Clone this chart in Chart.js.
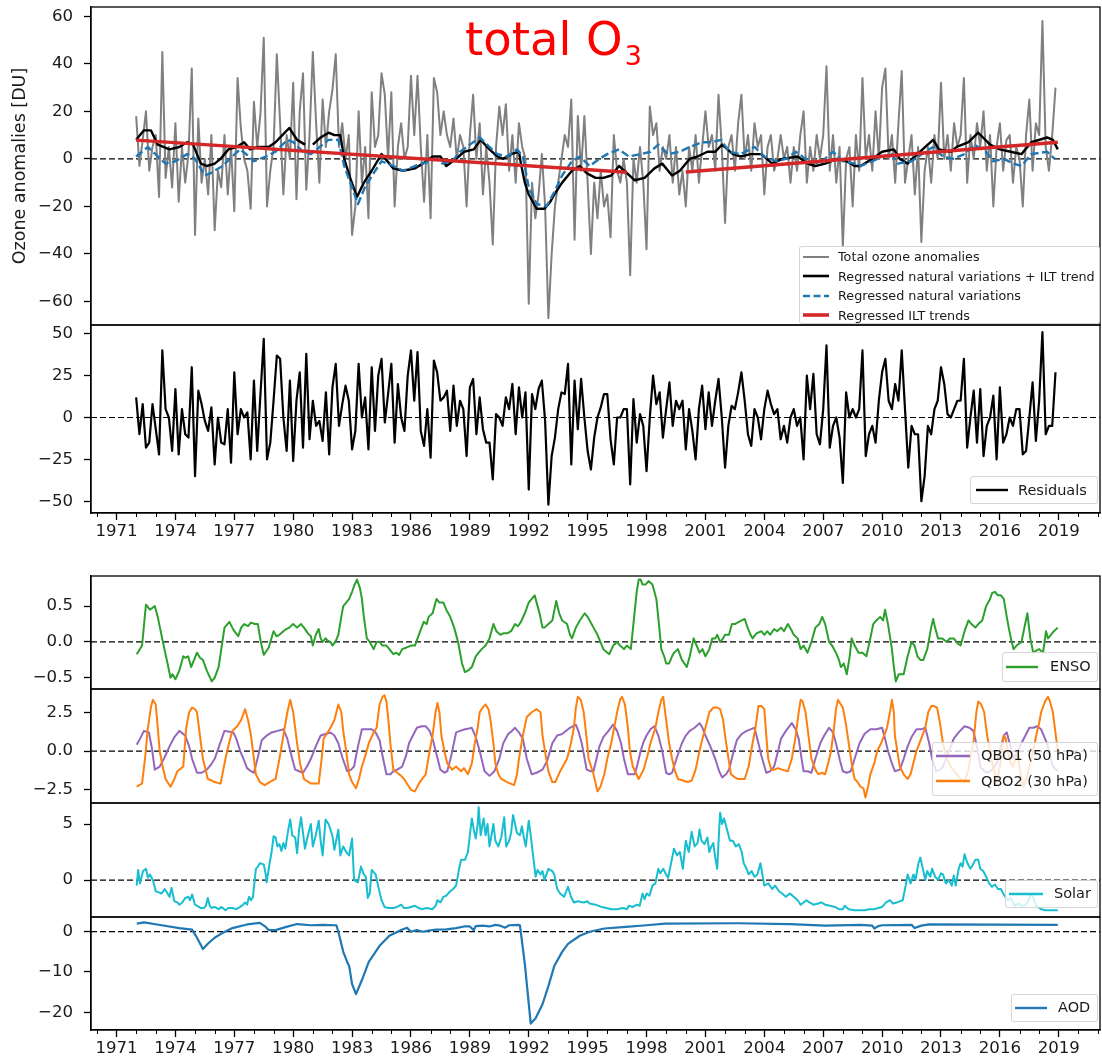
<!DOCTYPE html>
<html>
<head>
<meta charset="utf-8">
<script src="https://cdn.jsdelivr.net/npm/chart.js@4.4.0/dist/chart.umd.min.js"></script>
<style>
  body { margin: 0; background: #fff; }
  #fig { position: relative; width: 1102px; height: 1060px; overflow: hidden; font-family: "DejaVu Sans", sans-serif; }
  #fig canvas { position: absolute; left: 0; }
  #title { position: absolute; left: 465px; top: 16px; font-size: 46.5px; line-height: 46.5px; color: #ff0000; white-space: nowrap; z-index: 5; }
  #title .sub { font-size: 27px; position: relative; top: 10px; margin-left: 2px; }
  .legend { position: absolute; background: rgba(255,255,255,0.8); border: 1px solid rgba(204,204,204,0.8); border-radius: 3px; box-sizing: border-box; z-index: 4; }
  .legend span { position: absolute; white-space: nowrap; color: #1a1a1a; }
  .legend svg { position: absolute; }
</style>
</head>
<body>
<div id="fig">
  <div id="title">total O<span class="sub">3</span></div>
</div>
<script>
"use strict";

// x axis: decimal years
const xMajorTicks = [1971, 1974, 1977, 1980, 1983, 1986, 1989, 1992, 1995, 1998, 2001, 2004, 2007, 2010, 2013, 2016, 2019];
const xMinorTicks = [1970, 1972, 1973, 1975, 1976, 1978, 1979, 1981, 1982, 1984, 1985, 1987, 1988, 1990, 1991, 1993, 1994,
  1996, 1997, 1999, 2000, 2002, 2003, 2005, 2006, 2008, 2009, 2011, 2012, 2014, 2015, 2017, 2018, 2020, 2021];

// total ozone anomalies [DU], 6 samples per year from 1972
const ozoneStart = 1972;
const samplesPerYear = 6;
const ozoneAnom = [
  18, -3, 8, 20, -5, 5,        // 1972
  10, -16, 45, -8, 5, -12,     // 1973
  15, -18, 5, -10, 2, 38,      // 1974
  -32, 17, -10, 0, -15, 10,    // 1975
  -30, -5, -12, 10, -15, 5,    // 1976
  -22, 34, 13, 0, -5, -21,     // 1977
  24, 5, 19, 51, -20, -5,      // 1978
  5, 44, 15, -15, 10, 0,       // 1979
  32, -17, 20, 36, -13, 10,    // 1980
  45, 15, -10, 25, 5, 20,      // 1981
  29, 44, 5, 15, 0, 10,        // 1982
  -32, -20, 20, -10, 5, -25,   // 1983
  28, 5, 10, 36, 27, 0,        // 1984
  28, -20, 5, 15, 0, 5,        // 1985
  35, 10, 35, 5, -18, 10,      // 1986
  -25, 34, 28, 10, 20, 10,     // 1987
  5, 17, 0, 10, 5, -20,        // 1988
  10, 27, 0, 15, -15, 5,       // 1989
  -10, -36, 5, 22, 10, 23,     // 1990
  -5, 10, -10, 15, 5, 0,       // 1991
  -61, -10, -25, -15, 2, -20,  // 1992
  -67, -40, -20, -10, 0, 10,   // 1993
  5, 25, -34, 18, -5, 18,      // 1994
  -10, -40, -10, -25, -5, -20, // 1995
  -15, -33, 10, -5, -10, 0,    // 1996
  -10, -49, 0, -10, 5, -10,    // 1997
  -38, 22, 10, 15, -5, 5,      // 1998
  0, 10, -10, 5, -15, -5,      // 1999
  -20, 5, -5, 10, -10, 5,      // 2000
  20, 5, 10, -5, 27, 5,        // 2001
  -27, 5, 10, -5, 15, 27,      // 2002
  0, 10, -5, 15, 5, 10,        // 2003
  -15, 5, 10, -5, 0, 10,       // 2004
  0, 5, -10, 5, -5, 10,        // 2005
  20, -10, 5, -5, 10, 0,       // 2006
  10, 39, -5, 10, -10, 5,      // 2007
  -37, 0, 5, -20, 10, -5,      // 2008
  34, 0, 10, -5, 20, 0,        // 2009
  30, 38, 0, 10, -10, 15,      // 2010
  37, -10, 0, 10, -15, 5,      // 2011
  -35, -5, 5, -10, 10, 0,      // 2012
  32, 0, 10, -5, 15, 5,        // 2013
  10, 34, -10, 10, 0, 15,      // 2014
  5, 20, -5, 10, -20, 5,       // 2015
  15, -5, 8, 10, -10, 5,       // 2016
  0, -20, 10, 25, -5, 15,      // 2017
  10, 58, 5, -5, 10, 30        // 2018
];

// residuals [DU], same sampling
const residuals = [
  12, -10, 8, -18, -15, 8,     // 1972
  -7, -22, 40, 5, 0, -20,      // 1973
  17, -22, 5, -10, -12, 30,    // 1974
  -35, 16, 8, -2, -8, 6,       // 1975
  -28, 0, -15, -16, 5, -27,    // 1976
  27, -10, 5, 0, 3, -25,       // 1977
  22, -20, 14, 47, -25, -15,   // 1978
  10, 37, 35, 0, -20, 22,      // 1979
  -26, 10, 27, -18, 38, -13,   // 1980
  10, -5, -2, -14, 15, -22,    // 1981
  18, 32, -5, 8, 19, 10,       // 1982
  -19, -8, 32, 0, 12, -19,     // 1983
  30, -8, 25, 35, -3, 14,      // 1984
  32, -15, 20, 0, -8, 25,      // 1985
  40, 10, 39, -8, -17, 5,      // 1986
  -24, 34, 27, 10, 12, 16,     // 1987
  -8, 19, -5, 10, 5, -23,      // 1988
  18, 23, -10, 12, -7, -15,    // 1989
  -15, -37, 2, 0, -5, 12,      // 1990
  5, 20, -10, 18, 0, 15,       // 1991
  -43, 14, 5, 17, 22, -2,      // 1992
  -52, -23, -12, 5, 15, 14,    // 1993
  32, -28, 22, -7, 23, 0,      // 1994
  -20, -31, -12, 0, 6, 14,     // 1995
  14, -13, -28, 0, 0, 5,       // 1996
  5, -40, 11, -15, 2, -5,      // 1997
  -32, 0, 25, 8, 15, -12,      // 1998
  5, 21, -5, 10, 5, 10,        // 1999
  -19, 5, -8, -25, 5, 19,      // 2000
  -7, 15, -5, 10, 23, 0,       // 2001
  -30, -5, 7, 5, 15, 27,       // 2002
  10, -10, -17, 5, 0, -13,     // 2003
  5, 16, 8, 2, 5, -13,         // 2004
  -5, -15, 0, 5, -5, 0,        // 2005
  -25, 25, 5, 26, -10, -16,    // 2006
  5, 43, -18, -5, 0, -12,      // 2007
  -39, 15, 0, 5, 0, 5,         // 2008
  40, -23, -10, -5, -15, 10,   // 2009
  27, 35, 10, 5, 20, 10,       // 2010
  40, 5, -30, -5, -10, -10,    // 2011
  -50, -35, -5, -10, 5, 10,    // 2012
  30, 20, 2, 0, 5, 10,         // 2013
  10, 35, -18, 0, 16, -15,     // 2014
  17, -23, -5, 0, 13, -25,     // 2015
  18, -15, -10, 0, -5, 5,      // 2016
  5, -22, -20, 0, 21, -14,     // 2017
  10, 51, -10, -5, -5, 27      // 2018
];

// regressed natural variations + ILT trend [year, DU]
const regressedTotal = [[1972.0,8],[1972.4,12],[1972.75,12],[1973.1,6],[1973.7,4],[1974.2,5],[1974.6,7],[1974.9,6],[1975.3,-2],[1975.6,-3],
  [1976.0,-2],[1976.3,0],[1976.7,4],[1977.1,5],[1977.5,7],[1977.8,4],[1978.2,5],[1978.75,5],[1979.1,7],[1979.45,10],[1979.8,13],
  [1980.2,8],[1980.6,6],[1980.7,null],[1981.0,6],[1981.4,9],[1981.8,11],[1982.1,10],[1982.4,10],[1982.6,0],[1982.9,-8],[1983.25,-16],
  [1983.6,-10],[1984.0,-5],[1984.5,2],[1984.7,0],[1985.1,-4],[1985.6,-5],[1986.2,-4],[1986.6,-2],[1987.1,1],[1987.5,1],[1987.8,-3],
  [1988.3,0],[1988.7,3],[1989.2,4],[1989.55,8],[1990.0,4],[1990.4,1],[1990.7,0],[1991.1,2],[1991.5,3],[1991.6,-2],[1991.8,-10],
  [1992.0,-15],[1992.4,-21],[1992.8,-21],[1993.1,-18],[1993.3,-15],[1993.7,-10],[1994.2,-5],[1994.6,-3],[1994.95,-6],[1995.4,-8],
  [1995.8,-8],[1996.2,-7],[1996.6,-3],[1997.0,-6],[1997.4,-9],[1997.9,-8],[1998.4,-4],[1998.8,-2],[1999.3,-7],[1999.7,-5],[2000.2,0],
  [2000.6,1],[2001.1,3],[2001.5,3],[2001.85,6],[2002.4,2],[2002.8,1],[2003.3,2],[2003.85,2],[2004.4,-2],[2004.9,0],[2005.7,1],
  [2006.2,-2],[2006.6,-3],[2007.1,-2],[2007.7,0],[2008.2,-1],[2008.6,-3],[2008.9,-3],[2009.5,0],[2010.0,3],[2010.6,4],[2010.9,0],
  [2011.3,-2],[2011.8,2],[2012.2,5],[2012.6,8],[2012.9,4],[2013.5,3],[2013.8,5],[2014.4,7],[2014.9,11],[2015.5,6],[2016.0,4],
  [2016.55,3],[2017.1,2],[2017.6,7],[2018.4,9],[2018.7,8],[2018.95,4]];

// regressed natural variations [year, DU]
const regressedNatural = [[1972.0,1],[1972.6,5],[1973.1,1],[1973.5,-2],[1974.0,-1],[1974.6,2],[1975.0,0],[1975.5,-7],[1975.8,-6],
  [1976.4,-3],[1976.9,1],[1977.3,4],[1977.6,2],[1978.0,-1],[1978.6,1],[1979.1,3],[1979.7,8],[1980.0,7],[1980.5,3],[1980.9,2],
  [1981.5,6],[1981.8,8],[1982.3,8],[1982.6,-3],[1983.0,-12],[1983.3,-19],[1983.65,-12],[1984.1,-6],[1984.5,-1],[1984.8,-2],
  [1985.1,-3],[1985.6,-5],[1986.2,-3],[1986.6,-2],[1987.3,0],[1987.6,-2],[1988.1,-1],[1988.5,3],[1989.0,6],[1989.5,9],[1990.0,5],
  [1990.4,2],[1990.9,1],[1991.4,4],[1991.7,1],[1992.0,-12],[1992.4,-19],[1992.9,-20],[1993.3,-14],[1993.7,-7],[1994.2,-1],
  [1994.6,1],[1995.1,-3],[1995.6,0],[1996.0,2],[1996.6,4],[1997.1,1],[1997.7,2],[1998.2,3],[1998.6,6],[1999.1,2],[1999.7,3],
  [2000.2,5],[2000.8,7],[2001.3,7],[2001.8,8],[2002.2,3],[2002.8,2],[2003.5,5],[2004.0,1],[2004.6,-1],[2005.1,0],[2005.6,3],
  [2006.1,0],[2006.8,-2],[2007.5,3],[2008.0,-1],[2008.6,-2],[2008.9,-3],[2009.5,-1],[2010.0,1],[2010.5,2],[2010.8,-2],[2011.5,-1],
  [2012.2,3],[2012.6,5],[2013.1,1],[2013.6,0],[2014.2,2],[2014.7,6],[2015.3,3],[2015.65,-1],[2016.2,0],[2016.7,-2],[2017.1,-3],
  [2017.6,2],[2018.4,3],[2018.8,0]];

// regressed ILT trends (two segments) [year, DU]
const iltTrend = [[1972.0,7.9],[1997.0,-5.6],[1998.5,null],[2000.0,-5.5],[2018.95,7.0]];

// proxies [year, value]
const enso = [[1972.03,-0.17],[1972.3,-0.05],[1972.5,0.52],[1972.7,0.45],[1972.95,0.5],[1973.1,0.35],[1973.4,-0.05],[1973.6,-0.3],
  [1973.75,-0.5],[1973.85,-0.45],[1974.0,-0.52],[1974.2,-0.4],[1974.4,-0.2],[1974.5,-0.22],[1974.65,-0.2],[1974.8,-0.35],[1975.1,-0.15],
  [1975.25,-0.22],[1975.4,-0.25],[1975.6,-0.4],[1975.85,-0.55],[1976.0,-0.5],[1976.2,-0.35],[1976.5,0.2],[1976.75,0.28],[1976.9,0.2],
  [1977.0,0.15],[1977.2,0.08],[1977.35,0.2],[1977.5,0.25],[1977.7,0.22],[1977.85,0.27],[1978.05,0.25],[1978.2,0.25],[1978.35,0.0],
  [1978.5,-0.18],[1978.75,-0.08],[1979.0,0.15],[1979.15,0.08],[1979.3,0.1],[1979.5,0.15],[1979.65,0.18],[1979.8,0.2],[1980.0,0.25],
  [1980.2,0.2],[1980.4,0.25],[1980.55,0.2],[1980.75,0.12],[1980.9,0.08],[1981.0,-0.05],[1981.15,0.1],[1981.3,0.18],[1981.4,0.05],
  [1981.5,0.0],[1981.65,0.05],[1981.75,0.02],[1981.9,0.0],[1982.0,-0.05],[1982.15,0.0],[1982.3,0.1],[1982.45,0.35],[1982.55,0.5],
  [1982.7,0.55],[1982.85,0.6],[1983.0,0.7],[1983.1,0.78],[1983.25,0.87],[1983.4,0.75],[1983.5,0.6],[1983.6,0.35],[1983.75,0.05],
  [1983.9,0.0],[1984.1,-0.1],[1984.25,0.0],[1984.4,0.0],[1984.55,-0.05],[1984.75,-0.05],[1984.9,-0.1],[1985.1,-0.17],[1985.25,-0.15],
  [1985.4,-0.18],[1985.55,-0.1],[1985.75,-0.08],[1986.0,-0.05],[1986.2,-0.05],[1986.4,0.1],[1986.65,0.28],[1986.8,0.25],[1986.9,0.35],
  [1987.1,0.4],[1987.3,0.6],[1987.45,0.55],[1987.65,0.55],[1987.8,0.45],[1988.0,0.35],[1988.2,0.2],[1988.4,0.0],[1988.6,-0.3],
  [1988.75,-0.42],[1988.9,-0.4],[1989.1,-0.35],[1989.3,-0.2],[1989.45,-0.15],[1989.6,-0.1],[1989.8,-0.05],[1990.0,0.05],[1990.2,0.25],
  [1990.35,0.15],[1990.55,0.1],[1990.7,0.12],[1990.9,0.12],[1991.1,0.15],[1991.3,0.25],[1991.45,0.22],[1991.6,0.28],[1991.8,0.4],
  [1992.0,0.55],[1992.15,0.6],[1992.3,0.65],[1992.45,0.5],[1992.55,0.4],[1992.7,0.2],[1992.8,0.2],[1993.0,0.25],[1993.2,0.3],
  [1993.4,0.57],[1993.55,0.4],[1993.7,0.3],[1993.95,0.25],[1994.1,0.1],[1994.2,0.05],[1994.4,0.2],[1994.6,0.3],[1994.85,0.4],
  [1995.0,0.35],[1995.1,0.3],[1995.3,0.2],[1995.5,0.1],[1995.65,0.0],[1995.8,-0.1],[1996.0,-0.15],[1996.1,-0.17],[1996.3,-0.05],
  [1996.5,0.0],[1996.65,-0.05],[1996.85,-0.1],[1997.0,-0.05],[1997.2,-0.1],[1997.35,0.3],[1997.5,0.7],[1997.6,0.87],[1997.7,0.87],
  [1997.8,0.8],[1997.95,0.8],[1998.1,0.85],[1998.3,0.8],[1998.5,0.6],[1998.65,0.2],[1998.75,-0.1],[1998.9,-0.2],[1999.0,-0.3],
  [1999.15,-0.3],[1999.3,-0.2],[1999.4,-0.15],[1999.6,-0.1],[1999.8,-0.25],[2000.05,-0.35],[2000.2,-0.2],[2000.4,0.05],[2000.55,-0.05],
  [2000.7,-0.15],[2000.85,-0.1],[2001.0,-0.2],[2001.2,-0.1],[2001.35,0.05],[2001.5,0.05],[2001.6,0.1],[2001.75,0.0],[2001.9,0.05],
  [2002.0,0.1],[2002.2,0.1],[2002.35,0.25],[2002.5,0.25],[2002.7,0.28],[2002.85,0.3],[2003.0,0.32],[2003.15,0.2],[2003.3,0.1],
  [2003.4,0.05],[2003.6,0.12],[2003.85,0.15],[2004.0,0.1],[2004.15,0.15],[2004.3,0.1],[2004.5,0.18],[2004.65,0.15],[2004.85,0.2],
  [2005.0,0.15],[2005.2,0.25],[2005.35,0.18],[2005.5,0.1],[2005.7,0.05],[2005.85,-0.1],[2006.0,-0.05],[2006.2,-0.15],[2006.4,0.0],
  [2006.6,0.2],[2006.8,0.25],[2006.95,0.35],[2007.1,0.25],[2007.3,0.0],[2007.45,-0.05],[2007.65,-0.15],[2007.8,-0.25],[2007.9,-0.35],
  [2008.05,-0.3],[2008.2,-0.45],[2008.35,-0.2],[2008.45,0.05],[2008.6,-0.05],[2008.8,-0.15],[2009.0,-0.15],[2009.2,-0.2],[2009.4,0.05],
  [2009.55,0.25],[2009.7,0.3],[2009.9,0.35],[2010.05,0.3],[2010.15,0.45],[2010.3,0.25],[2010.5,-0.1],[2010.6,-0.35],[2010.7,-0.55],
  [2010.85,-0.45],[2011.1,-0.45],[2011.3,-0.2],[2011.5,0.0],[2011.65,-0.05],[2011.8,-0.2],[2011.95,-0.25],[2012.1,-0.25],[2012.3,-0.1],
  [2012.4,0.05],[2012.5,0.2],[2012.6,0.32],[2012.7,0.2],[2012.85,0.05],[2013.05,0.05],[2013.3,0.0],[2013.45,0.05],[2013.65,0.05],
  [2013.85,-0.02],[2014.0,-0.05],[2014.2,0.15],[2014.4,0.3],[2014.55,0.25],[2014.75,0.2],[2014.9,0.25],[2015.1,0.3],[2015.3,0.5],
  [2015.5,0.6],[2015.6,0.68],[2015.75,0.7],[2015.9,0.65],[2016.05,0.65],[2016.2,0.6],[2016.35,0.35],[2016.45,0.2],[2016.6,0.0],
  [2016.7,-0.1],[2016.85,-0.05],[2017.1,0.0],[2017.25,0.2],[2017.4,0.4],[2017.55,0.05],[2017.7,-0.15],[2017.85,-0.12],[2018.0,-0.1],
  [2018.2,-0.15],[2018.35,0.15],[2018.45,0.05],[2018.6,0.1],[2018.75,0.15],[2018.95,0.2]];

const qbo1 = [[1972.03,0.4],[1972.2,0.8],[1972.4,1.3],[1972.65,1.2],[1972.8,0.2],[1972.95,-1.2],[1973.2,-1.0],[1973.45,-0.4],[1973.7,0.3],
  [1973.95,0.9],[1974.2,1.3],[1974.5,1.0],[1974.7,0.3],[1974.85,-0.5],[1975.1,-1.4],[1975.35,-1.4],[1975.6,-1.2],[1975.8,-0.9],[1976.0,-0.5],
  [1976.25,0.4],[1976.5,1.3],[1976.75,1.25],[1976.95,1.2],[1977.1,0.8],[1977.3,0.0],[1977.5,-0.6],[1977.65,-1.1],[1977.85,-1.3],[1978.0,-1.4],
  [1978.2,-0.4],[1978.4,0.7],[1978.65,1.0],[1978.9,1.2],[1979.2,1.3],[1979.5,1.4],[1979.7,0.8],[1979.85,0.0],[1980.1,-1.2],[1980.3,-1.3],
  [1980.5,-1.4],[1980.7,-1.0],[1980.9,-0.5],[1981.15,0.3],[1981.4,1.0],[1981.65,1.1],[1981.9,1.2],[1982.1,1.0],[1982.3,0.5],[1982.5,-0.4],
  [1982.75,-1.3],[1982.95,-1.2],[1983.1,-1.0],[1983.3,0.3],[1983.5,1.4],[1983.75,1.4],[1984.0,1.4],[1984.2,1.2],[1984.4,0.7],[1984.55,-0.3],
  [1984.75,-1.5],[1984.95,-1.5],[1985.1,-1.3],[1985.3,-1.2],[1985.55,-1.0],[1985.75,-0.3],[1985.9,0.5],[1986.1,1.0],[1986.3,1.5],
  [1986.55,1.6],[1986.75,1.6],[1986.95,1.3],[1987.1,0.8],[1987.3,-0.2],[1987.5,-1.2],[1987.7,-1.4],[1987.85,-1.3],[1988.05,-0.3],
  [1988.3,1.2],[1988.5,1.3],[1988.75,1.4],[1988.95,1.45],[1989.1,1.5],[1989.3,0.9],[1989.5,0.0],[1989.75,-1.3],[1990.0,-1.6],[1990.25,-1.3],
  [1990.5,-0.5],[1990.7,0.5],[1990.95,1.1],[1991.15,1.3],[1991.3,1.5],[1991.5,1.2],[1991.7,0.8],[1991.9,-0.5],[1992.15,-1.5],[1992.4,-1.4],
  [1992.7,-1.2],[1992.95,-0.6],[1993.2,0.5],[1993.45,1.0],[1993.7,1.1],[1994.1,1.5],[1994.4,1.7],[1994.55,1.2],[1994.7,0.5],[1994.95,-1.2],
  [1995.15,-1.3],[1995.3,-1.3],[1995.45,-0.5],[1995.6,0.3],[1995.8,0.9],[1996.0,1.2],[1996.3,1.7],[1996.5,1.3],[1996.7,0.5],[1996.85,-0.5],
  [1997.05,-1.5],[1997.25,-1.5],[1997.4,-1.5],[1997.55,-0.8],[1997.7,0.0],[1997.85,0.6],[1998.0,1.0],[1998.2,1.4],[1998.4,1.6],[1998.6,1.0],
  [1998.8,0.0],[1999.0,-1.4],[1999.15,-1.5],[1999.3,-1.4],[1999.55,-0.4],[1999.8,0.5],[2000.0,1.0],[2000.2,1.3],[2000.45,1.5],[2000.7,1.8],
  [2000.85,1.5],[2001.0,1.0],[2001.25,0.3],[2001.5,-0.5],[2001.7,-1.3],[2001.85,-1.7],[2002.05,-1.5],[2002.2,-1.2],[2002.4,-0.2],
  [2002.6,0.7],[2002.85,1.1],[2003.1,1.3],[2003.3,1.4],[2003.5,1.5],[2003.7,0.5],[2003.85,-0.3],[2004.1,-1.4],[2004.3,-1.3],[2004.5,-1.0],
  [2004.7,0.0],[2004.85,0.8],[2005.1,1.3],[2005.4,1.8],[2005.6,1.4],[2005.75,0.8],[2005.9,-0.5],[2006.0,-1.3],[2006.2,-1.3],[2006.4,-1.4],
  [2006.6,-0.5],[2006.85,0.5],[2007.05,1.0],[2007.3,1.5],[2007.5,1.2],[2007.65,0.5],[2007.85,-0.6],[2008.0,-1.3],[2008.2,-1.4],
  [2008.4,-1.3],[2008.6,-0.5],[2008.85,0.5],[2009.1,1.1],[2009.4,1.4],[2009.7,1.4],[2010.0,1.5],[2010.15,0.8],[2010.3,0.0],[2010.5,-0.8],
  [2010.65,-1.3],[2010.9,-1.2],[2011.1,-0.5],[2011.3,0.3],[2011.5,0.9],[2011.75,1.4],[2012.0,1.4],[2012.2,1.5],[2012.4,0.5],[2012.55,-0.5],
  [2012.75,-1.3],[2012.95,-1.2],[2013.1,-1.0],[2013.35,-0.2],[2013.65,0.8],[2013.9,1.2],[2014.2,1.6],[2014.45,1.5],[2014.65,1.3],
  [2014.85,0.2],[2015.0,-1.0],[2015.2,-1.3],[2015.4,-1.4],[2015.6,-1.2],[2015.85,-0.8],[2016.0,0.0],[2016.2,1.0],[2016.35,1.2],
  [2016.5,0.5],[2016.7,-0.5],[2016.9,0.0],[2017.1,0.5],[2017.3,1.0],[2017.5,1.5],[2017.7,1.5],[2017.9,1.6],[2018.1,1.4],[2018.4,0.5],
  [2018.55,-0.3],[2018.7,-1.0],[2018.95,-1.3]];

const qbo2 = [[1972.03,-2.3],[1972.15,-2.2],[1972.3,-2.1],[1972.45,-0.5],[1972.6,1.5],[1972.75,2.8],[1972.85,3.3],[1973.0,3.0],[1973.1,1.5],
  [1973.2,0.0],[1973.35,-1.0],[1973.5,-1.8],[1973.75,-2.3],[1973.95,-1.8],[1974.1,-1.3],[1974.3,-1.1],[1974.4,-1.0],[1974.55,1.5],
  [1974.7,2.5],[1974.85,2.8],[1975.0,2.7],[1975.1,2.5],[1975.25,1.0],[1975.4,-0.5],[1975.65,-1.8],[1975.85,-1.9],[1976.0,-2.0],
  [1976.3,-2.1],[1976.55,-0.5],[1976.75,0.6],[1976.9,1.3],[1977.15,1.6],[1977.35,2.0],[1977.55,2.7],[1977.7,2.0],[1977.85,1.0],
  [1978.1,-1.5],[1978.3,-2.0],[1978.55,-2.2],[1978.8,-2.0],[1979.1,-1.8],[1979.3,-0.5],[1979.5,1.0],[1979.7,2.5],[1979.85,3.3],
  [1980.0,2.5],[1980.2,0.5],[1980.35,-0.8],[1980.55,-1.8],[1980.9,-2.1],[1981.1,-2.1],[1981.3,-2.1],[1981.45,-0.5],[1981.55,0.8],
  [1981.75,1.2],[1981.9,1.5],[1982.1,2.0],[1982.3,3.0],[1982.45,2.5],[1982.55,1.3],[1982.7,0.0],[1982.85,-1.5],[1983.0,-2.0],[1983.2,-2.4],
  [1983.35,-1.8],[1983.5,-1.0],[1983.7,-0.2],[1983.85,0.5],[1984.1,1.2],[1984.25,1.5],[1984.4,3.0],[1984.55,3.5],[1984.65,3.6],
  [1984.75,3.2],[1984.85,2.0],[1984.95,0.5],[1985.1,-1.2],[1985.3,-1.4],[1985.5,-1.6],[1985.65,-1.8],[1985.85,-2.2],[1986.0,-2.5],
  [1986.2,-2.6],[1986.45,-2.0],[1986.75,-1.5],[1986.95,0.0],[1987.1,1.0],[1987.25,2.5],[1987.35,3.1],[1987.45,2.5],[1987.55,1.0],
  [1987.7,0.0],[1987.85,-0.8],[1988.1,-1.2],[1988.3,-1.0],[1988.55,-1.3],[1988.7,-1.1],[1988.9,-1.5],[1989.1,-0.8],[1989.25,0.5],
  [1989.4,1.5],[1989.5,2.5],[1989.65,2.8],[1989.8,3.0],[1989.95,2.7],[1990.05,2.0],[1990.2,0.5],[1990.3,-0.8],[1990.45,-1.5],[1990.6,-1.8],
  [1990.9,-2.0],[1991.25,-2.2],[1991.4,-1.5],[1991.5,-0.5],[1991.7,1.0],[1991.9,2.2],[1992.15,2.5],[1992.4,2.7],[1992.6,2.5],[1992.7,1.0],
  [1992.85,-0.2],[1993.0,-1.3],[1993.2,-2.0],[1993.35,-2.0],[1993.6,-1.3],[1993.95,-0.5],[1994.15,0.5],[1994.3,1.5],[1994.4,2.8],
  [1994.5,3.5],[1994.65,3.3],[1994.8,2.5],[1994.95,0.8],[1995.05,-0.5],[1995.3,-1.5],[1995.5,-2.6],[1995.65,-2.3],[1995.85,-1.5],
  [1996.0,-0.5],[1996.2,0.5],[1996.35,1.5],[1996.5,2.5],[1996.65,3.3],[1996.75,3.5],[1996.9,3.0],[1997.05,1.5],[1997.15,0.0],
  [1997.3,-1.0],[1997.6,-1.8],[1997.85,-1.2],[1998.05,-0.3],[1998.2,0.5],[1998.45,1.5],[1998.6,2.5],[1998.75,3.3],[1998.85,3.5],
  [1999.0,2.0],[1999.15,0.5],[1999.3,-0.5],[1999.45,-1.3],[1999.6,-1.8],[1999.85,-1.9],[2000.1,-2.0],[2000.3,-1.9],[2000.5,-1.2],
  [2000.7,0.0],[2000.85,0.8],[2001.0,1.5],[2001.2,2.5],[2001.4,2.8],[2001.6,2.8],[2001.75,2.7],[2001.9,2.0],[2002.0,1.0],[2002.15,-0.3],
  [2002.3,-1.5],[2002.5,-1.7],[2002.65,-1.8],[2003.0,-1.8],[2003.2,-1.0],[2003.4,0.5],[2003.55,1.5],[2003.7,2.9],[2003.85,2.9],
  [2004.0,2.7],[2004.1,1.0],[2004.2,-0.5],[2004.35,-1.2],[2004.5,-1.2],[2004.7,-1.1],[2004.9,-1.2],[2005.2,-1.3],[2005.4,-0.5],
  [2005.6,1.0],[2005.75,2.5],[2005.85,3.3],[2005.95,3.2],[2006.1,2.5],[2006.25,1.0],[2006.4,-0.5],[2006.6,-1.2],[2006.75,-1.5],
  [2006.95,-1.4],[2007.1,-1.5],[2007.25,-0.8],[2007.4,0.0],[2007.55,1.5],[2007.65,2.7],[2007.75,3.3],[2007.9,3.0],[2008.0,2.8],
  [2008.15,1.8],[2008.3,0.5],[2008.45,-0.8],[2008.6,-1.8],[2008.75,-2.0],[2008.9,-2.3],[2009.05,-2.4],[2009.15,-3.0],[2009.3,-2.2],
  [2009.4,-1.5],[2009.6,-0.8],[2009.75,0.0],[2009.95,0.5],[2010.1,1.0],[2010.25,1.5],[2010.4,2.5],[2010.5,3.3],[2010.6,2.5],[2010.65,1.0],
  [2010.8,-0.2],[2010.9,-1.0],[2011.1,-1.5],[2011.3,-1.8],[2011.45,-1.5],[2011.55,-1.0],[2011.75,0.0],[2011.9,0.5],[2012.05,1.0],
  [2012.2,1.5],[2012.35,2.5],[2012.5,2.9],[2012.65,2.9],[2012.8,2.8],[2012.95,1.8],[2013.1,0.5],[2013.3,-0.5],[2013.5,-1.0],[2013.8,-1.5],
  [2014.0,-1.8],[2014.2,-2.0],[2014.4,-1.2],[2014.55,0.0],[2014.65,0.5],[2014.8,2.5],[2014.9,3.2],[2015.05,3.0],[2015.2,2.5],
  [2015.35,1.0],[2015.5,0.0],[2015.65,-1.0],[2015.85,-2.0],[2016.0,-1.0],[2016.2,1.0],[2016.3,0.8],[2016.4,0.0],[2016.55,-0.8],
  [2016.65,-1.0],[2016.8,-0.5],[2016.9,0.0],[2017.05,-1.5],[2017.2,-2.3],[2017.35,-1.8],[2017.5,-1.0],[2017.7,0.0],[2017.85,1.0],
  [2018.0,1.8],[2018.1,2.5],[2018.3,3.2],[2018.45,3.5],[2018.55,3.2],[2018.7,2.5],[2018.85,1.0],[2018.95,0.0]];

const solar = [[1972.03,-0.5],[1972.1,0.9],[1972.2,-0.3],[1972.35,0.8],[1972.5,1.0],[1972.6,0.2],[1972.7,0.5],[1972.85,0.0],[1973.0,-1.0],
  [1973.15,-1.1],[1973.3,-1.2],[1973.45,-0.8],[1973.6,-1.2],[1973.7,-1.5],[1973.8,-0.7],[1973.95,-1.9],[1974.1,-2.0],[1974.2,-2.2],
  [1974.35,-2.0],[1974.5,-1.6],[1974.65,-1.5],[1974.75,-1.8],[1974.85,-1.3],[1975.0,-2.2],[1975.3,-2.5],[1975.45,-2.5],[1975.55,-2.3],
  [1975.65,-1.6],[1975.75,-2.3],[1975.85,-2.5],[1976.0,-2.4],[1976.2,-2.6],[1976.35,-2.4],[1976.55,-2.7],[1976.7,-2.5],[1976.9,-2.5],
  [1977.1,-2.6],[1977.3,-2.4],[1977.45,-2.2],[1977.55,-2.0],[1977.65,-2.2],[1977.75,-1.5],[1977.85,-1.8],[1977.95,-1.5],[1978.1,1.0],
  [1978.2,1.2],[1978.3,1.5],[1978.5,1.4],[1978.6,0.5],[1978.65,-0.2],[1978.8,1.5],[1978.9,2.5],[1979.0,3.9],[1979.1,3.8],[1979.2,3.0],
  [1979.3,3.2],[1979.4,2.6],[1979.5,3.3],[1979.6,2.8],[1979.75,4.5],[1979.85,5.4],[1979.95,4.0],[1980.1,3.8],[1980.2,2.4],[1980.3,4.5],
  [1980.4,5.6],[1980.5,4.2],[1980.6,2.8],[1980.75,4.0],[1980.9,5.0],[1981.0,3.0],[1981.15,4.0],[1981.3,5.3],[1981.4,3.5],[1981.5,2.2],
  [1981.65,5.4],[1981.8,5.0],[1981.9,4.5],[1982.0,3.9],[1982.1,2.7],[1982.3,4.5],[1982.4,2.2],[1982.55,3.0],[1982.7,2.5],[1982.85,2.2],
  [1983.0,3.7],[1983.1,0.0],[1983.3,-0.2],[1983.45,1.2],[1983.6,0.5],[1983.7,0.3],[1983.8,-1.6],[1983.9,-1.2],[1984.0,0.9],[1984.2,0.5],
  [1984.35,-0.7],[1984.5,-1.8],[1984.65,-2.4],[1984.85,-2.5],[1985.1,-2.5],[1985.3,-2.4],[1985.5,-2.2],[1985.65,-2.5],[1985.8,-2.5],
  [1986.0,-2.4],[1986.2,-2.3],[1986.4,-2.5],[1986.55,-2.6],[1986.8,-2.5],[1987.1,-2.6],[1987.25,-2.3],[1987.35,-1.8],[1987.5,-2.0],
  [1987.65,-1.5],[1987.8,-1.4],[1988.0,-1.0],[1988.15,-0.8],[1988.3,-0.5],[1988.45,1.0],[1988.55,1.8],[1988.75,1.8],[1988.9,2.5],
  [1989.0,4.0],[1989.1,5.5],[1989.2,4.5],[1989.3,3.7],[1989.4,5.0],[1989.45,6.5],[1989.55,4.0],[1989.7,5.5],[1989.8,4.0],[1989.9,5.0],
  [1990.0,3.0],[1990.1,4.0],[1990.2,5.0],[1990.3,3.5],[1990.45,3.0],[1990.6,3.8],[1990.75,5.6],[1990.85,3.0],[1991.0,3.5],[1991.1,4.2],
  [1991.2,5.8],[1991.3,5.0],[1991.4,4.2],[1991.55,4.0],[1991.65,4.8],[1991.75,3.8],[1991.85,3.0],[1992.0,5.3],[1992.1,4.0],[1992.2,2.5],
  [1992.35,0.3],[1992.45,0.9],[1992.6,0.5],[1992.7,0.8],[1992.8,0.0],[1992.9,0.5],[1993.0,1.0],[1993.2,0.8],[1993.3,0.5],[1993.45,-0.8],
  [1993.6,-1.2],[1993.8,-1.5],[1994.0,-0.6],[1994.15,-1.5],[1994.3,-2.0],[1994.5,-1.9],[1994.8,-2.0],[1995.0,-1.9],[1995.1,-2.1],
  [1995.4,-2.2],[1995.7,-2.4],[1995.95,-2.5],[1996.2,-2.6],[1996.5,-2.6],[1996.8,-2.5],[1997.0,-2.6],[1997.1,-2.3],[1997.3,-2.4],
  [1997.5,-2.2],[1997.65,-2.3],[1997.8,-1.2],[1997.9,-1.7],[1998.0,-1.2],[1998.15,-1.4],[1998.3,-0.5],[1998.45,-0.3],[1998.6,1.0],
  [1998.7,0.6],[1998.85,1.0],[1999.0,0.5],[1999.1,0.2],[1999.25,1.5],[1999.4,2.8],[1999.55,2.2],[1999.7,2.5],[1999.85,1.0],[2000.0,3.5],
  [2000.15,2.5],[2000.3,4.3],[2000.45,3.0],[2000.6,3.3],[2000.7,4.5],[2000.8,3.5],[2000.95,3.2],[2001.1,3.8],[2001.2,2.5],[2001.3,3.0],
  [2001.4,3.3],[2001.5,2.0],[2001.6,1.0],[2001.7,4.5],[2001.75,6.0],[2001.85,5.0],[2001.95,5.5],[2002.1,4.5],[2002.25,3.5],[2002.4,3.5],
  [2002.55,3.0],[2002.7,3.2],[2002.85,2.5],[2002.95,1.5],[2003.1,1.0],[2003.2,0.5],[2003.35,0.8],[2003.5,0.3],[2003.65,0.5],[2003.8,1.5],
  [2003.9,0.5],[2004.0,-0.5],[2004.2,-0.3],[2004.4,-0.8],[2004.55,-0.5],[2004.75,-1.0],[2004.9,-1.2],[2005.1,-1.5],[2005.3,-1.2],
  [2005.5,-1.5],[2005.7,-1.8],[2005.85,-2.2],[2006.0,-2.0],[2006.15,-1.8],[2006.3,-2.0],[2006.5,-2.2],[2006.75,-2.1],[2006.9,-2.0],
  [2007.1,-2.2],[2007.35,-2.3],[2007.6,-2.4],[2007.8,-2.6],[2008.0,-2.6],[2008.1,-2.3],[2008.3,-2.6],[2008.6,-2.7],[2008.85,-2.7],
  [2009.1,-2.7],[2009.35,-2.6],[2009.6,-2.6],[2009.8,-2.5],[2010.0,-2.4],[2010.2,-2.0],[2010.4,-1.8],[2010.55,-2.1],[2010.75,-2.0],
  [2010.9,-1.9],[2011.05,-1.8],[2011.2,-0.5],[2011.3,0.5],[2011.45,-0.3],[2011.6,0.5],[2011.7,0.0],[2011.85,1.5],[2011.95,2.0],
  [2012.05,1.2],[2012.2,0.0],[2012.3,0.8],[2012.45,0.3],[2012.55,1.0],[2012.7,0.3],[2012.85,0.0],[2013.0,0.6],[2013.1,0.5],[2013.25,-0.3],
  [2013.4,0.0],[2013.55,-0.5],[2013.65,0.4],[2013.75,-0.5],[2013.9,1.0],[2014.0,1.5],[2014.1,1.2],[2014.2,2.3],[2014.35,1.5],[2014.5,1.0],
  [2014.6,1.3],[2014.75,1.8],[2014.9,1.8],[2015.0,1.0],[2015.15,0.8],[2015.3,0.3],[2015.45,-0.3],[2015.6,-0.6],[2015.75,-0.4],
  [2015.9,-0.8],[2016.05,-0.8],[2016.2,-1.3],[2016.4,-1.8],[2016.55,-1.6],[2016.75,-2.3],[2016.95,-2.1],[2017.15,-2.3],[2017.35,-2.2],
  [2017.5,-1.6],[2017.6,-1.2],[2017.7,-1.6],[2017.85,-2.3],[2018.1,-2.6],[2018.3,-2.7],[2018.55,-2.7],[2018.95,-2.7]];

const aod = [[1972.03,2.0],[1972.4,2.3],[1973.3,1.6],[1974.2,0.9],[1974.85,0.5],[1975.1,-1.5],[1975.4,-4.3],[1975.65,-3.0],[1976.0,-1.5],
  [1976.4,-0.3],[1976.9,0.9],[1977.65,1.8],[1978.3,2.2],[1978.55,1.4],[1978.75,0.4],[1979.1,0.4],[1979.65,1.2],[1980.2,1.9],[1980.9,1.6],
  [1981.5,1.7],[1982.2,1.6],[1982.3,0.0],[1982.55,-5.0],[1982.75,-7.5],[1982.85,-8.5],[1983.0,-13.0],[1983.2,-15.5],[1983.5,-12.0],
  [1983.85,-7.5],[1984.4,-3.5],[1984.9,-1.0],[1985.5,0.4],[1985.8,1.0],[1986.0,0.0],[1986.3,0.4],[1986.6,0.0],[1986.9,0.3],[1987.3,0.5],
  [1987.8,0.6],[1988.3,0.9],[1988.7,1.3],[1989.0,1.3],[1989.2,0.4],[1989.3,1.4],[1989.65,1.5],[1990.0,1.3],[1990.3,1.7],[1990.55,1.5],
  [1990.8,1.0],[1991.0,1.6],[1991.45,1.7],[1991.55,1.6],[1991.8,-8.0],[1992.1,-22.8],[1992.35,-21.5],[1992.7,-18.0],[1993.0,-13.5],
  [1993.3,-8.5],[1993.7,-5.0],[1994.0,-3.0],[1994.6,-1.0],[1995.1,0.0],[1995.85,0.8],[1996.95,1.2],[1998.0,1.6],[1998.95,2.0],
  [2002.6,2.1],[2005.3,1.9],[2007.1,1.5],[2008.9,1.7],[2009.5,1.5],[2009.6,0.8],[2009.8,1.4],[2010.0,1.6],[2011.5,1.7],[2011.65,0.9],
  [2012.0,1.5],[2012.4,1.8],[2018.95,1.7]];

// ---------------------------------------------------------------
Chart.defaults.font.family = '"DejaVu Sans", sans-serif';
Chart.defaults.color = '#1a1a1a';

const fig = document.getElementById('fig');
const X_MIN = 1969.7, X_MAX = 2021.1;
const PLOT_LEFT = 91, PLOT_RIGHT = 1100;
const TICK_FONT = 16.6;
const PAD = 30; // room above/below each plot so the library keeps the plot area where we put it

function toXY(values) {
  return values.map((v, i) => ({x: ozoneStart + i / samplesPerYear, y: v}));
}

function signed(dec) {
  return v => (v < 0 ? '\u2212' : '') + Math.abs(v).toFixed(dec);
}

function line(label, data, color, width, extra) {
  return Object.assign({label, data, borderColor: color, borderWidth: width, pointRadius: 0,
    tension: 0, fill: false, spanGaps: false, borderJoinStyle: 'round'}, extra || {});
}

// frame on all four sides, dashed zero line, minor x ticks
const framePlugin = {
  id: 'frame',
  afterDraw(chart) {
    const {ctx, chartArea: a} = chart;
    ctx.save();
    ctx.strokeStyle = '#000';
    ctx.lineWidth = 1.3;
    ctx.strokeRect(a.left, a.top, a.right - a.left, a.bottom - a.top);
    ctx.restore();
  }
};
const zeroPlugin = {
  id: 'zeroLine',
  beforeDatasetsDraw(chart) {
    const {ctx, chartArea: a} = chart;
    const y = chart.scales.y.getPixelForValue(0);
    ctx.save();
    ctx.strokeStyle = '#000';
    ctx.lineWidth = 1.2;
    ctx.setLineDash([6, 3]);
    ctx.beginPath();
    ctx.moveTo(a.left, y);
    ctx.lineTo(a.right, y);
    ctx.stroke();
    ctx.restore();
  }
};
const minorPlugin = {
  id: 'minorTicks',
  afterDraw(chart, args, opts) {
    if (!opts.show) return;
    const {ctx, chartArea: a} = chart;
    const xs = chart.scales.x;
    ctx.save();
    ctx.strokeStyle = '#000';
    ctx.lineWidth = 1;
    for (const yr of xMinorTicks) {
      const px = Math.round(xs.getPixelForValue(yr)) + 0.5;
      ctx.beginPath();
      ctx.moveTo(px, a.bottom);
      ctx.lineTo(px, a.bottom + 4);
      ctx.stroke();
    }
    ctx.restore();
  }
};

function makePanel(p) {
  const padTop = PAD;
  const xAxisH = p.xLabels ? 30 : 0;
  const padBottom = p.xLabels ? 2 : PAD;
  const canvas = document.createElement('canvas');
  canvas.width = 1102;
  canvas.height = Math.round(padTop + (p.bottom - p.top) + xAxisH + padBottom);
  canvas.style.top = (p.top - padTop) + 'px';
  fig.appendChild(canvas);

  new Chart(canvas, {
    type: 'line',
    data: {datasets: p.datasets},
    options: {
      responsive: false,
      animation: false,
      devicePixelRatio: 1,
      events: [],
      layout: {padding: {left: 0, right: 1102 - PLOT_RIGHT, top: padTop, bottom: padBottom}},
      plugins: {legend: {display: false}, tooltip: {enabled: false}, minorTicks: {show: !!p.xLabels}},
      scales: {
        x: {
          type: 'linear', min: X_MIN, max: X_MAX,
          display: !!p.xLabels,
          afterFit: s => { s.height = xAxisH; },
          afterBuildTicks: s => { s.ticks = xMajorTicks.map(v => ({value: v})); },
          ticks: {font: {size: TICK_FONT}, padding: 2, maxRotation: 0, autoSkip: false, callback: v => String(v)},
          grid: {drawOnChartArea: false, drawTicks: true, tickLength: 7, tickColor: '#000', tickWidth: 1.3},
          border: {display: true, color: '#000', width: 1.3}
        },
        y: {
          min: p.yMin, max: p.yMax,
          afterFit: s => { s.width = PLOT_LEFT; },
          afterBuildTicks: s => { s.ticks = p.yTicks.map(v => ({value: v})); },
          ticks: {font: {size: TICK_FONT}, padding: 11, callback: signed(p.dec || 0)},
          grid: {drawOnChartArea: false, drawTicks: true, tickLength: 7, tickColor: '#000', tickWidth: 1.3},
          border: {display: true, color: '#000', width: 1.3},
          title: p.yTitle ? {display: true, text: p.yTitle, font: {size: 17.5}, padding: {top: 10, bottom: 0}, color: '#1a1a1a'} : {display: false}
        }
      }
    },
    plugins: [zeroPlugin, framePlugin, minorPlugin]
  });
}

function addLegend(box, fontSize, hx, tx, rows) {
  const d = document.createElement('div');
  d.className = 'legend';
  Object.assign(d.style, {left: box[0] + 'px', top: box[1] + 'px', width: box[2] + 'px', height: box[3] + 'px'});
  const lh = Math.round(fontSize * 1.2);
  for (const r of rows) {
    const w = hx[1] - hx[0];
    const dash = r.dash ? ` stroke-dasharray="${r.dash}"` : '';
    d.insertAdjacentHTML('beforeend',
      `<svg width="${w}" height="10" style="left:${hx[0] - box[0] - 1}px;top:${r.y - box[1] - 6}px">` +
      `<line x1="0" y1="5" x2="${w}" y2="5" stroke="${r.color}" stroke-width="${r.width}"${dash}/></svg>` +
      `<span style="left:${tx - box[0] - 1}px;top:${r.y - box[1] - 1 - lh / 2}px;font-size:${fontSize}px;line-height:${lh}px">${r.label}</span>`);
  }
  fig.appendChild(d);
}

// ---- panels ----
makePanel({
  top: 6.7, bottom: 325, yMin: -69.9, yMax: 63.9, yTicks: [-60, -40, -20, 0, 20, 40, 60],
  yTitle: 'Ozone anomalies [DU]',
  datasets: [
    line('Total ozone anomalies', toXY(ozoneAnom), '#808080', 2, {order: 4}),
    line('Regressed natural variations + ILT trend', regressedTotal, '#000000', 2.4, {order: 3}),
    line('Regressed natural variations', regressedNatural, '#1f77b4', 2.4, {order: 2, borderDash: [8, 3.5]}),
    line('Regressed ILT trends', iltTrend, '#d62728', 3.4, {order: 1})
  ]
});

addLegend([799, 246, 301, 78], 12.75, [802.5, 828.5], 838, [
  {label: 'Total ozone anomalies', color: '#808080', width: 2, y: 256.7},
  {label: 'Regressed natural variations + ILT trend', color: '#000', width: 2.6, y: 276.3},
  {label: 'Regressed natural variations', color: '#1f77b4', width: 2.6, dash: '7,3.5', y: 295.7},
  {label: 'Regressed ILT trends', color: '#d62728', width: 3.6, y: 315}
]);

makePanel({
  top: 325, bottom: 512.7, yMin: -57.0, yMax: 55.2, yTicks: [-50, -25, 0, 25, 50], xLabels: true,
  datasets: [line('Residuals', toXY(residuals), '#000000', 2.2)]
});
addLegend([970, 476, 128, 28], 14.5, [976, 1008], 1018, [
  {label: 'Residuals', color: '#000', width: 2.4, y: 490}
]);

makePanel({
  top: 576, bottom: 689, yMin: -0.656, yMax: 0.92, yTicks: [-0.5, 0, 0.5], dec: 1,
  datasets: [line('ENSO', enso, '#2ca02c', 2)]
});
addLegend([1002, 652, 96, 30], 14.5, [1006, 1038], 1050, [
  {label: 'ENSO', color: '#2ca02c', width: 2.4, y: 666.5}
]);

makePanel({
  top: 689, bottom: 803, yMin: -3.35, yMax: 4.0, yTicks: [-2.5, 0, 2.5], dec: 1,
  datasets: [
    line('QBO1 (50 hPa)', qbo1, '#9467bd', 2, {order: 2}),
    line('QBO2 (30 hPa)', qbo2, '#ff7f0e', 2, {order: 1})
  ]
});
addLegend([932, 742, 166, 54], 14.5, [936, 970], 981, [
  {label: 'QBO1 (50 hPa)', color: '#9467bd', width: 2.4, y: 755.5},
  {label: 'QBO2 (30 hPa)', color: '#ff7f0e', width: 2.4, y: 781}
]);

makePanel({
  top: 803, bottom: 917, yMin: -3.3, yMax: 6.875, yTicks: [0, 5],
  datasets: [line('Solar', solar, '#17becf', 2)]
});
addLegend([1005, 880, 93, 28], 14.5, [1009, 1043], 1054, [
  {label: 'Solar', color: '#17becf', width: 2.4, y: 893.5}
]);

makePanel({
  top: 917, bottom: 1030, yMin: -24.4, yMax: 3.65, yTicks: [-20, -10, 0], xLabels: true,
  datasets: [line('AOD', aod, '#1f77b4', 2.2)]
});
addLegend([1011, 994, 87, 28], 14.5, [1015, 1047], 1058, [
  {label: 'AOD', color: '#1f77b4', width: 2.4, y: 1007.5}
]);
</script>
</body>
</html>
